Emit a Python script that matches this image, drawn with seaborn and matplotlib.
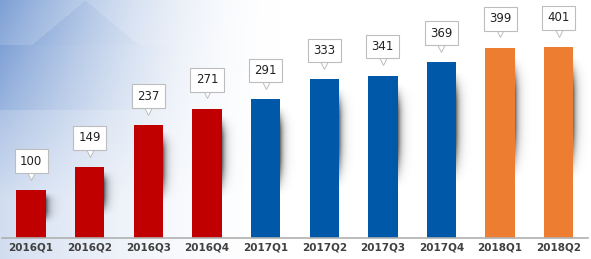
import numpy as np
import pandas as pd
import matplotlib
matplotlib.use("Agg")
import matplotlib.pyplot as plt
import matplotlib.transforms as mtrans
import seaborn as sns

quarters = ["2016Q1", "2016Q2", "2016Q3", "2016Q4", "2017Q1", "2017Q2",
            "2017Q3", "2017Q4", "2018Q1", "2018Q2"]
values = [100, 149, 237, 271, 291, 333, 341, 369, 399, 401]
years = ["2016", "2016", "2016", "2016", "2017", "2017", "2017", "2017", "2018", "2018"]
palette = {"2016": "#C00000", "2017": "#0058A8", "2018": "#ED7D31"}

df = pd.DataFrame({"quarter": quarters, "value": values, "year": years})

sns.set_theme(style="white")
fig = plt.figure(figsize=(5.91, 2.59), dpi=100)

# background gradient
bg = fig.add_axes([0, 0, 1, 1], zorder=0)
H, W = 259, 591
yy, xx = np.mgrid[0:H, 0:W]
base = np.clip(1 - xx / 280.0, 0, 1) ** 1.8 * (0.35 + 0.65 * np.clip(1 - yy / 200.0, 0, 1))
tri = (np.abs(xx - 85) < (yy * 1.2)) & (yy < 45)
band = (yy >= 45) & (yy < 110)
f = base * 0.75 + tri * np.clip(1 - xx / 200.0, 0, 1) * 0.12 + band * np.clip(1 - xx / 180.0, 0, 1) * 0.1
f = np.clip(f, 0, 1)
blue = np.array([0.32, 0.50, 0.78])
img = np.ones((H, W, 3)) * (1 - f[..., None]) + blue * f[..., None]
bg.imshow(img, aspect="auto", extent=[0, 1, 0, 1], origin="upper")
bg.axis("off")

ax = fig.add_axes([0.003, 0.081, 0.992, 0.919], zorder=1)
ax.patch.set_alpha(0)
sns.barplot(data=df, x="quarter", y="value", hue="year", palette=palette,
            dodge=False, width=0.5, legend=False, ax=ax, saturation=1,
            linewidth=0, edgecolor="none")

# soft blurred shadows to the right of the bars
sy, sx = np.mgrid[0:1:160j, 0:1:40j]  # sy: 0 = top of bar, 1 = bottom
vert = np.clip((sy - 0.04) / 0.2, 0, 1) * np.clip((0.7 - sy) / 0.3, 0, 1)
vert = np.sin(vert * np.pi / 2) ** 1.5
horiz = np.exp(-sx / 0.22)
alpha = np.clip(vert * horiz * 0.6, 0, 1)
shadow = np.zeros((160, 40, 4))
shadow[..., 3] = alpha
for p in list(ax.patches):
    h = p.get_height()
    if h <= 0:
        continue
    x0 = p.get_x() + p.get_width()
    ax.imshow(shadow, extent=[x0, x0 + 0.27, 0, h], origin="upper",
              aspect="auto", zorder=0.5, interpolation="bilinear")
ax.set_xlim(-0.5, len(quarters) - 0.5)
ax.set_ylim(0, 500)
ax.set_aspect("auto")

for i, v in enumerate(values):
    ax.annotate(str(v), xy=(i, v), xytext=(0, 21), textcoords="offset points",
                ha="center", va="center", fontsize=8.5, color="#222222",
                zorder=5,
                bbox=dict(boxstyle="square,pad=0.45", fc="white", ec="#bdbdbd", lw=0.8))
    ln, = ax.plot([i], [v], marker="v", markersize=5.5, color="white",
                  markeredgecolor="#bdbdbd", markeredgewidth=0.7,
                  zorder=4, clip_on=False, linestyle="none")
    ln.set_transform(ax.transData + mtrans.ScaledTranslation(0, 10.5 / 72, fig.dpi_scale_trans))

ax.set_xlabel("")
ax.set_ylabel("")
ax.set_yticks([])
for s in ["top", "right", "left"]:
    ax.spines[s].set_visible(False)
ax.spines["bottom"].set_color("#b0b0b0")
ax.spines["bottom"].set_linewidth(1.2)
ax.tick_params(axis="x", length=0, pad=3)
for t in ax.get_xticklabels():
    t.set_fontweight("bold")
    t.set_fontsize(7.5)
    t.set_color("#404040")

fig.savefig("out.png", dpi=100)
